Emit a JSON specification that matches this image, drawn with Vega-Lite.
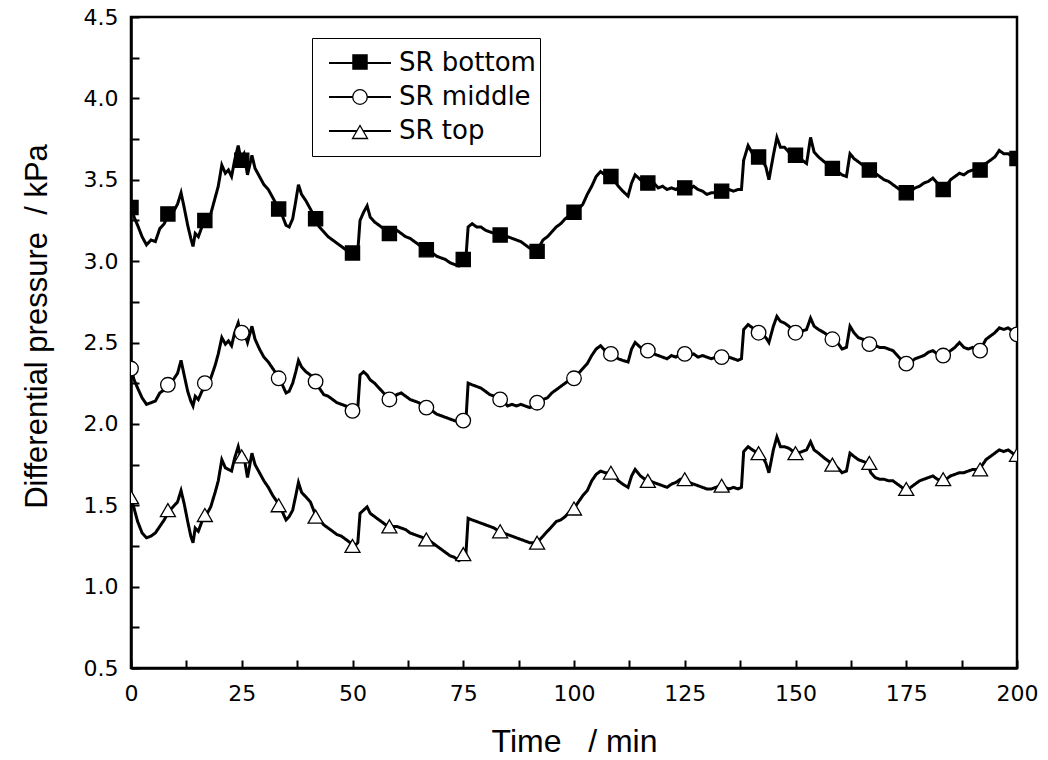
{
  "$schema": "https://vega.github.io/schema/vega-lite/v6.json",
  "width": 886,
  "height": 651,
  "autosize": {"type": "none"},
  "padding": {"left": 131, "top": 17, "right": 31, "bottom": 92},
  "background": "white",
  "config": {
    "view": {"stroke": "black", "strokeWidth": 2.5},
    "axis": {"grid": false, "domainColor": "black", "domainWidth": 2.5, "tickColor": "black", "tickWidth": 2, "tickSize": -8, "labelColor": "black", "titleColor": "black", "labelFont": "DejaVu Sans", "labelFontSize": 22, "labelFlush": false, "titleFont": "Liberation Sans", "titleFontWeight": "normal"}
  },
  "datasets": {
    "lines": [
      {"t":0,"SR bottom":3.36,"SR middle":2.34,"SR top":1.55},
      {"t":0.7,"SR bottom":3.27,"SR middle":2.27,"SR top":1.48},
      {"t":1.5,"SR bottom":3.22,"SR middle":2.22,"SR top":1.40},
      {"t":2.5,"SR bottom":3.15,"SR middle":2.16,"SR top":1.33},
      {"t":3.5,"SR bottom":3.10,"SR middle":2.12,"SR top":1.30},
      {"t":4.5,"SR bottom":3.13,"SR middle":2.13,"SR top":1.31},
      {"t":5.5,"SR bottom":3.12,"SR middle":2.14,"SR top":1.33},
      {"t":6.5,"SR bottom":3.20,"SR middle":2.19,"SR top":1.37},
      {"t":7.5,"SR bottom":3.23,"SR middle":2.21,"SR top":1.41},
      {"t":8.5,"SR bottom":3.29,"SR middle":2.24,"SR top":1.46},
      {"t":9.5,"SR bottom":3.30,"SR middle":2.27,"SR top":1.49},
      {"t":10.5,"SR bottom":3.35,"SR middle":2.31,"SR top":1.52},
      {"t":11.3,"SR bottom":3.42,"SR middle":2.39,"SR top":1.59},
      {"t":12,"SR bottom":3.33,"SR middle":2.30,"SR top":1.51},
      {"t":12.8,"SR bottom":3.22,"SR middle":2.20,"SR top":1.40},
      {"t":13.5,"SR bottom":3.14,"SR middle":2.14,"SR top":1.31},
      {"t":14,"SR bottom":3.09,"SR middle":2.11,"SR top":1.27},
      {"t":14.5,"SR bottom":3.17,"SR middle":2.17,"SR top":1.36},
      {"t":15.2,"SR bottom":3.15,"SR middle":2.15,"SR top":1.34},
      {"t":16,"SR bottom":3.21,"SR middle":2.20,"SR top":1.40},
      {"t":17,"SR bottom":3.24,"SR middle":2.24,"SR top":1.44},
      {"t":18,"SR bottom":3.29,"SR middle":2.28,"SR top":1.49},
      {"t":19,"SR bottom":3.39,"SR middle":2.36,"SR top":1.58},
      {"t":19.7,"SR bottom":3.46,"SR middle":2.43,"SR top":1.65},
      {"t":20.5,"SR bottom":3.59,"SR middle":2.53,"SR top":1.78},
      {"t":21.3,"SR bottom":3.54,"SR middle":2.49,"SR top":1.73},
      {"t":22,"SR bottom":3.56,"SR middle":2.51,"SR top":1.72},
      {"t":22.7,"SR bottom":3.52,"SR middle":2.48,"SR top":1.71},
      {"t":23.4,"SR bottom":3.62,"SR middle":2.56,"SR top":1.79},
      {"t":24.2,"SR bottom":3.71,"SR middle":2.62,"SR top":1.86},
      {"t":24.8,"SR bottom":3.63,"SR middle":2.55,"SR top":1.79},
      {"t":25.5,"SR bottom":3.66,"SR middle":2.57,"SR top":1.80},
      {"t":26.3,"SR bottom":3.53,"SR middle":2.50,"SR top":1.67},
      {"t":27.3,"SR bottom":3.65,"SR middle":2.60,"SR top":1.82},
      {"t":28,"SR bottom":3.57,"SR middle":2.52,"SR top":1.75},
      {"t":29,"SR bottom":3.52,"SR middle":2.46,"SR top":1.70},
      {"t":30,"SR bottom":3.47,"SR middle":2.41,"SR top":1.65},
      {"t":31,"SR bottom":3.44,"SR middle":2.38,"SR top":1.61},
      {"t":32,"SR bottom":3.39,"SR middle":2.34,"SR top":1.56},
      {"t":33,"SR bottom":3.34,"SR middle":2.30,"SR top":1.52},
      {"t":34,"SR bottom":3.29,"SR middle":2.25,"SR top":1.47},
      {"t":35,"SR bottom":3.22,"SR middle":2.19,"SR top":1.41},
      {"t":35.7,"SR bottom":3.21,"SR middle":2.20,"SR top":1.43},
      {"t":36.5,"SR bottom":3.26,"SR middle":2.25,"SR top":1.47},
      {"t":37.2,"SR bottom":3.37,"SR middle":2.32,"SR top":1.56},
      {"t":37.8,"SR bottom":3.47,"SR middle":2.39,"SR top":1.64},
      {"t":38.5,"SR bottom":3.41,"SR middle":2.35,"SR top":1.58},
      {"t":39.5,"SR bottom":3.37,"SR middle":2.32,"SR top":1.55},
      {"t":40.5,"SR bottom":3.32,"SR middle":2.30,"SR top":1.52},
      {"t":41.5,"SR bottom":3.27,"SR middle":2.26,"SR top":1.45},
      {"t":42.5,"SR bottom":3.21,"SR middle":2.22,"SR top":1.41},
      {"t":43.5,"SR bottom":3.18,"SR middle":2.18,"SR top":1.38},
      {"t":44.5,"SR bottom":3.15,"SR middle":2.17,"SR top":1.36},
      {"t":45.5,"SR bottom":3.13,"SR middle":2.15,"SR top":1.34},
      {"t":46.5,"SR bottom":3.11,"SR middle":2.13,"SR top":1.32},
      {"t":47.5,"SR bottom":3.09,"SR middle":2.12,"SR top":1.31},
      {"t":48.5,"SR bottom":3.07,"SR middle":2.11,"SR top":1.29},
      {"t":49.5,"SR bottom":3.05,"SR middle":2.10,"SR top":1.27},
      {"t":50.5,"SR bottom":3.05,"SR middle":2.08,"SR top":1.25},
      {"t":51.2,"SR bottom":3.06,"SR middle":2.10,"SR top":1.27},
      {"t":51.7,"SR bottom":3.25,"SR middle":2.30,"SR top":1.45},
      {"t":52.5,"SR bottom":3.30,"SR middle":2.32,"SR top":1.47},
      {"t":53.3,"SR bottom":3.34,"SR middle":2.30,"SR top":1.49},
      {"t":54,"SR bottom":3.27,"SR middle":2.27,"SR top":1.45},
      {"t":55,"SR bottom":3.24,"SR middle":2.25,"SR top":1.43},
      {"t":56,"SR bottom":3.22,"SR middle":2.22,"SR top":1.41},
      {"t":57,"SR bottom":3.20,"SR middle":2.19,"SR top":1.39},
      {"t":58,"SR bottom":3.18,"SR middle":2.16,"SR top":1.37},
      {"t":59,"SR bottom":3.16,"SR middle":2.15,"SR top":1.37},
      {"t":60,"SR bottom":3.19,"SR middle":2.18,"SR top":1.37},
      {"t":61,"SR bottom":3.17,"SR middle":2.19,"SR top":1.36},
      {"t":62,"SR bottom":3.15,"SR middle":2.17,"SR top":1.35},
      {"t":63,"SR bottom":3.14,"SR middle":2.15,"SR top":1.33},
      {"t":64,"SR bottom":3.12,"SR middle":2.14,"SR top":1.32},
      {"t":65,"SR bottom":3.10,"SR middle":2.13,"SR top":1.31},
      {"t":66,"SR bottom":3.08,"SR middle":2.11,"SR top":1.30},
      {"t":67,"SR bottom":3.06,"SR middle":2.10,"SR top":1.29},
      {"t":68,"SR bottom":3.05,"SR middle":2.08,"SR top":1.27},
      {"t":69,"SR bottom":3.03,"SR middle":2.06,"SR top":1.25},
      {"t":70,"SR bottom":3.02,"SR middle":2.05,"SR top":1.23},
      {"t":71,"SR bottom":3.01,"SR middle":2.04,"SR top":1.21},
      {"t":72,"SR bottom":2.99,"SR middle":2.03,"SR top":1.19},
      {"t":73,"SR bottom":2.98,"SR middle":2.02,"SR top":1.18},
      {"t":74,"SR bottom":2.97,"SR middle":2.01,"SR top":1.16},
      {"t":75,"SR bottom":3.00,"SR middle":2.02,"SR top":1.18},
      {"t":75.6,"SR bottom":3.02,"SR middle":2.02,"SR top":1.20},
      {"t":76.1,"SR bottom":3.21,"SR middle":2.25,"SR top":1.42},
      {"t":77,"SR bottom":3.23,"SR middle":2.24,"SR top":1.41},
      {"t":78,"SR bottom":3.21,"SR middle":2.23,"SR top":1.40},
      {"t":79,"SR bottom":3.21,"SR middle":2.22,"SR top":1.39},
      {"t":80,"SR bottom":3.19,"SR middle":2.20,"SR top":1.38},
      {"t":81,"SR bottom":3.18,"SR middle":2.18,"SR top":1.37},
      {"t":82,"SR bottom":3.17,"SR middle":2.17,"SR top":1.36},
      {"t":83,"SR bottom":3.16,"SR middle":2.15,"SR top":1.34},
      {"t":84,"SR bottom":3.17,"SR middle":2.14,"SR top":1.33},
      {"t":85,"SR bottom":3.15,"SR middle":2.11,"SR top":1.32},
      {"t":86,"SR bottom":3.14,"SR middle":2.12,"SR top":1.31},
      {"t":87,"SR bottom":3.13,"SR middle":2.11,"SR top":1.30},
      {"t":88,"SR bottom":3.12,"SR middle":2.12,"SR top":1.29},
      {"t":89,"SR bottom":3.10,"SR middle":2.11,"SR top":1.28},
      {"t":90,"SR bottom":3.08,"SR middle":2.10,"SR top":1.27},
      {"t":91,"SR bottom":3.06,"SR middle":2.11,"SR top":1.27},
      {"t":92,"SR bottom":3.08,"SR middle":2.13,"SR top":1.28},
      {"t":93,"SR bottom":3.13,"SR middle":2.15,"SR top":1.31},
      {"t":94,"SR bottom":3.15,"SR middle":2.16,"SR top":1.34},
      {"t":95,"SR bottom":3.18,"SR middle":2.19,"SR top":1.37},
      {"t":96,"SR bottom":3.21,"SR middle":2.21,"SR top":1.40},
      {"t":97,"SR bottom":3.23,"SR middle":2.23,"SR top":1.41},
      {"t":98,"SR bottom":3.26,"SR middle":2.25,"SR top":1.43},
      {"t":99,"SR bottom":3.28,"SR middle":2.27,"SR top":1.46},
      {"t":100,"SR bottom":3.30,"SR middle":2.28,"SR top":1.48},
      {"t":101,"SR bottom":3.32,"SR middle":2.31,"SR top":1.52},
      {"t":102,"SR bottom":3.35,"SR middle":2.34,"SR top":1.56},
      {"t":103,"SR bottom":3.41,"SR middle":2.37,"SR top":1.59},
      {"t":104,"SR bottom":3.46,"SR middle":2.42,"SR top":1.65},
      {"t":105,"SR bottom":3.52,"SR middle":2.46,"SR top":1.69},
      {"t":106,"SR bottom":3.55,"SR middle":2.48,"SR top":1.71},
      {"t":107,"SR bottom":3.53,"SR middle":2.45,"SR top":1.70},
      {"t":108,"SR bottom":3.54,"SR middle":2.44,"SR top":1.70},
      {"t":109,"SR bottom":3.50,"SR middle":2.42,"SR top":1.68},
      {"t":110,"SR bottom":3.46,"SR middle":2.40,"SR top":1.65},
      {"t":111,"SR bottom":3.43,"SR middle":2.39,"SR top":1.63},
      {"t":112.2,"SR bottom":3.40,"SR middle":2.38,"SR top":1.61},
      {"t":113,"SR bottom":3.48,"SR middle":2.46,"SR top":1.68},
      {"t":113.8,"SR bottom":3.53,"SR middle":2.50,"SR top":1.72},
      {"t":115,"SR bottom":3.50,"SR middle":2.47,"SR top":1.68},
      {"t":116,"SR bottom":3.49,"SR middle":2.46,"SR top":1.66},
      {"t":117,"SR bottom":3.47,"SR middle":2.45,"SR top":1.65},
      {"t":118,"SR bottom":3.48,"SR middle":2.43,"SR top":1.64},
      {"t":119,"SR bottom":3.45,"SR middle":2.42,"SR top":1.63},
      {"t":120,"SR bottom":3.46,"SR middle":2.41,"SR top":1.62},
      {"t":121,"SR bottom":3.44,"SR middle":2.40,"SR top":1.61},
      {"t":122,"SR bottom":3.45,"SR middle":2.42,"SR top":1.63},
      {"t":123,"SR bottom":3.44,"SR middle":2.41,"SR top":1.64},
      {"t":124,"SR bottom":3.46,"SR middle":2.43,"SR top":1.66},
      {"t":125,"SR bottom":3.45,"SR middle":2.43,"SR top":1.66},
      {"t":126,"SR bottom":3.44,"SR middle":2.42,"SR top":1.64},
      {"t":127,"SR bottom":3.46,"SR middle":2.43,"SR top":1.63},
      {"t":128,"SR bottom":3.44,"SR middle":2.41,"SR top":1.62},
      {"t":129,"SR bottom":3.43,"SR middle":2.42,"SR top":1.61},
      {"t":130,"SR bottom":3.41,"SR middle":2.41,"SR top":1.60},
      {"t":131,"SR bottom":3.42,"SR middle":2.40,"SR top":1.60},
      {"t":132,"SR bottom":3.42,"SR middle":2.41,"SR top":1.61},
      {"t":133,"SR bottom":3.43,"SR middle":2.41,"SR top":1.62},
      {"t":134,"SR bottom":3.43,"SR middle":2.40,"SR top":1.61},
      {"t":135,"SR bottom":3.44,"SR middle":2.41,"SR top":1.60},
      {"t":136,"SR bottom":3.43,"SR middle":2.40,"SR top":1.61},
      {"t":137,"SR bottom":3.44,"SR middle":2.39,"SR top":1.60},
      {"t":137.8,"SR bottom":3.44,"SR middle":2.40,"SR top":1.61},
      {"t":138.3,"SR bottom":3.62,"SR middle":2.58,"SR top":1.83},
      {"t":139.3,"SR bottom":3.71,"SR middle":2.61,"SR top":1.86},
      {"t":140.3,"SR bottom":3.66,"SR middle":2.59,"SR top":1.84},
      {"t":141.5,"SR bottom":3.64,"SR middle":2.56,"SR top":1.82},
      {"t":142.5,"SR bottom":3.62,"SR middle":2.55,"SR top":1.80},
      {"t":143.3,"SR bottom":3.58,"SR middle":2.53,"SR top":1.76},
      {"t":144,"SR bottom":3.50,"SR middle":2.50,"SR top":1.70},
      {"t":145,"SR bottom":3.65,"SR middle":2.60,"SR top":1.84},
      {"t":145.8,"SR bottom":3.76,"SR middle":2.66,"SR top":1.92},
      {"t":146.6,"SR bottom":3.70,"SR middle":2.63,"SR top":1.86},
      {"t":147.5,"SR bottom":3.70,"SR middle":2.62,"SR top":1.86},
      {"t":148.5,"SR bottom":3.67,"SR middle":2.60,"SR top":1.85},
      {"t":149.5,"SR bottom":3.65,"SR middle":2.57,"SR top":1.83},
      {"t":150.5,"SR bottom":3.63,"SR middle":2.56,"SR top":1.82},
      {"t":151.5,"SR bottom":3.62,"SR middle":2.57,"SR top":1.83},
      {"t":152.5,"SR bottom":3.60,"SR middle":2.58,"SR top":1.84},
      {"t":153.4,"SR bottom":3.76,"SR middle":2.65,"SR top":1.89},
      {"t":154.2,"SR bottom":3.67,"SR middle":2.60,"SR top":1.84},
      {"t":155.2,"SR bottom":3.64,"SR middle":2.58,"SR top":1.82},
      {"t":156.5,"SR bottom":3.61,"SR middle":2.56,"SR top":1.79},
      {"t":157.5,"SR bottom":3.59,"SR middle":2.54,"SR top":1.77},
      {"t":158.5,"SR bottom":3.57,"SR middle":2.52,"SR top":1.75},
      {"t":159.5,"SR bottom":3.55,"SR middle":2.50,"SR top":1.73},
      {"t":160.5,"SR bottom":3.53,"SR middle":2.46,"SR top":1.70},
      {"t":161.5,"SR bottom":3.52,"SR middle":2.47,"SR top":1.71},
      {"t":162.3,"SR bottom":3.66,"SR middle":2.60,"SR top":1.82},
      {"t":163.2,"SR bottom":3.63,"SR middle":2.56,"SR top":1.80},
      {"t":164.2,"SR bottom":3.61,"SR middle":2.53,"SR top":1.78},
      {"t":165.2,"SR bottom":3.59,"SR middle":2.52,"SR top":1.77},
      {"t":166.2,"SR bottom":3.57,"SR middle":2.51,"SR top":1.76},
      {"t":167,"SR bottom":3.56,"SR middle":2.49,"SR top":1.70},
      {"t":168,"SR bottom":3.54,"SR middle":2.48,"SR top":1.67},
      {"t":169,"SR bottom":3.52,"SR middle":2.47,"SR top":1.66},
      {"t":170,"SR bottom":3.50,"SR middle":2.47,"SR top":1.66},
      {"t":171,"SR bottom":3.49,"SR middle":2.46,"SR top":1.65},
      {"t":172,"SR bottom":3.47,"SR middle":2.45,"SR top":1.65},
      {"t":173,"SR bottom":3.45,"SR middle":2.42,"SR top":1.63},
      {"t":174,"SR bottom":3.43,"SR middle":2.39,"SR top":1.61},
      {"t":175,"SR bottom":3.42,"SR middle":2.37,"SR top":1.59},
      {"t":176,"SR bottom":3.43,"SR middle":2.38,"SR top":1.61},
      {"t":177,"SR bottom":3.45,"SR middle":2.40,"SR top":1.63},
      {"t":178,"SR bottom":3.46,"SR middle":2.41,"SR top":1.65},
      {"t":179,"SR bottom":3.48,"SR middle":2.42,"SR top":1.66},
      {"t":180,"SR bottom":3.49,"SR middle":2.44,"SR top":1.67},
      {"t":181,"SR bottom":3.51,"SR middle":2.45,"SR top":1.68},
      {"t":182,"SR bottom":3.48,"SR middle":2.43,"SR top":1.66},
      {"t":183,"SR bottom":3.44,"SR middle":2.42,"SR top":1.65},
      {"t":184,"SR bottom":3.46,"SR middle":2.43,"SR top":1.66},
      {"t":185,"SR bottom":3.50,"SR middle":2.45,"SR top":1.68},
      {"t":186,"SR bottom":3.52,"SR middle":2.47,"SR top":1.69},
      {"t":187,"SR bottom":3.54,"SR middle":2.50,"SR top":1.70},
      {"t":188,"SR bottom":3.53,"SR middle":2.47,"SR top":1.70},
      {"t":189,"SR bottom":3.55,"SR middle":2.46,"SR top":1.71},
      {"t":190,"SR bottom":3.56,"SR middle":2.47,"SR top":1.72},
      {"t":191,"SR bottom":3.55,"SR middle":2.45,"SR top":1.72},
      {"t":192,"SR bottom":3.58,"SR middle":2.47,"SR top":1.74},
      {"t":193,"SR bottom":3.60,"SR middle":2.52,"SR top":1.78},
      {"t":194,"SR bottom":3.62,"SR middle":2.54,"SR top":1.80},
      {"t":195,"SR bottom":3.64,"SR middle":2.56,"SR top":1.82},
      {"t":196,"SR bottom":3.68,"SR middle":2.59,"SR top":1.84},
      {"t":197,"SR bottom":3.66,"SR middle":2.58,"SR top":1.83},
      {"t":198,"SR bottom":3.66,"SR middle":2.59,"SR top":1.84},
      {"t":199,"SR bottom":3.64,"SR middle":2.57,"SR top":1.82},
      {"t":200,"SR bottom":3.62,"SR middle":2.55,"SR top":1.80}
    ],
    "marks": [
      {"t":0,"SR bottom":3.33,"SR middle":2.34,"SR top":1.55},
      {"t":8.33,"SR bottom":3.29,"SR middle":2.24,"SR top":1.47},
      {"t":16.67,"SR bottom":3.25,"SR middle":2.25,"SR top":1.44},
      {"t":25,"SR bottom":3.62,"SR middle":2.56,"SR top":1.80},
      {"t":33.33,"SR bottom":3.32,"SR middle":2.28,"SR top":1.50},
      {"t":41.67,"SR bottom":3.26,"SR middle":2.26,"SR top":1.43},
      {"t":50,"SR bottom":3.05,"SR middle":2.08,"SR top":1.25},
      {"t":58.33,"SR bottom":3.17,"SR middle":2.15,"SR top":1.37},
      {"t":66.67,"SR bottom":3.07,"SR middle":2.10,"SR top":1.29},
      {"t":75,"SR bottom":3.01,"SR middle":2.02,"SR top":1.20},
      {"t":83.33,"SR bottom":3.16,"SR middle":2.15,"SR top":1.34},
      {"t":91.67,"SR bottom":3.06,"SR middle":2.13,"SR top":1.27},
      {"t":100,"SR bottom":3.30,"SR middle":2.28,"SR top":1.48},
      {"t":108.33,"SR bottom":3.52,"SR middle":2.43,"SR top":1.70},
      {"t":116.67,"SR bottom":3.48,"SR middle":2.45,"SR top":1.65},
      {"t":125,"SR bottom":3.45,"SR middle":2.43,"SR top":1.66},
      {"t":133.33,"SR bottom":3.43,"SR middle":2.41,"SR top":1.62},
      {"t":141.67,"SR bottom":3.64,"SR middle":2.56,"SR top":1.82},
      {"t":150,"SR bottom":3.65,"SR middle":2.56,"SR top":1.82},
      {"t":158.33,"SR bottom":3.57,"SR middle":2.52,"SR top":1.75},
      {"t":166.67,"SR bottom":3.56,"SR middle":2.49,"SR top":1.76},
      {"t":175,"SR bottom":3.42,"SR middle":2.37,"SR top":1.60},
      {"t":183.33,"SR bottom":3.44,"SR middle":2.42,"SR top":1.66},
      {"t":191.67,"SR bottom":3.56,"SR middle":2.45,"SR top":1.72},
      {"t":200,"SR bottom":3.63,"SR middle":2.55,"SR top":1.81}
    ]
  },
  "layer": [
    {
      "data": {"name": "lines"},
      "transform": [{"fold": ["SR bottom", "SR middle", "SR top"], "as": ["series", "v"]}],
      "mark": {"type": "line", "strokeWidth": 3, "clip": true},
      "encoding": {
        "x": {"field": "t", "type": "quantitative", "scale": {"domain": [0, 200], "nice": false, "zero": false},
          "axis": {"values": [0,12.5,25,37.5,50,62.5,75,87.5,100,112.5,125,137.5,150,162.5,175,187.5,200], "labelExpr": "datum.value % 25 === 0 ? datum.label : ''", "labelPadding": 23, "title": "Time\u00a0\u00a0\u00a0/\u00a0min", "titleFontSize": 32, "titlePadding": 22}},
        "y": {"field": "v", "type": "quantitative", "scale": {"domain": [0.5, 4.5], "nice": false, "zero": false},
          "axis": {"values": [0.5,0.75,1,1.25,1.5,1.75,2,2.25,2.5,2.75,3,3.25,3.5,3.75,4,4.25,4.5], "labelExpr": "(datum.value * 2) % 1 === 0 ? format(datum.value, '.1f') : ''", "labelPadding": 21, "title": "Differential pressure\u00a0\u00a0/\u00a0kPa", "titleFontSize": 31, "titlePadding": 30, "titleY": 309}},
        "strokeDash": {"field": "series", "type": "nominal", "scale": {"range": [[1, 0], [1, 0], [1, 0]]},
          "legend": {"title": null, "orient": "none", "legendX": 208, "legendY": 25, "padding": 0, "rowPadding": 0, "labelFont": "DejaVu Sans", "labelFontSize": 26, "labelColor": "black", "symbolType": "M-1.55,0H1.55", "symbolSize": 1600, "symbolStrokeColor": "black", "symbolStrokeWidth": 2, "symbolOffset": 0, "labelOffset": 18, "zindex": 1}},
        "stroke": {"field": "series", "type": "nominal", "scale": {"domain": ["SR bottom", "SR middle", "SR top"], "range": ["black", "black", "black"]},
          "legend": {"title": null, "orient": "none", "legendX": 181, "legendY": 21, "strokeColor": "black", "padding": 11, "rowPadding": 9, "labelFont": "DejaVu Sans", "labelFontSize": 26, "labelOpacity": 0, "symbolStrokeColor": "black", "symbolStrokeWidth": 1.3, "symbolOffset": 24, "labelOffset": 19, "zindex": 2}}
      }
    },
    {
      "data": {"name": "marks"},
      "transform": [{"fold": ["SR bottom", "SR middle", "SR top"], "as": ["series", "v"]}],
      "mark": {"type": "point", "filled": true, "stroke": "black", "strokeWidth": 1.3, "opacity": 1, "size": 225, "clip": true},
      "encoding": {
        "x": {"field": "t", "type": "quantitative"},
        "y": {"field": "v", "type": "quantitative"},
        "shape": {"field": "series", "type": "nominal", "scale": {"domain": ["SR bottom", "SR middle", "SR top"], "range": ["square", "circle", "triangle-up"]},
          "legend": {"title": null, "orient": "none", "legendX": 181, "legendY": 21, "strokeColor": "black", "padding": 11, "rowPadding": 9, "labelFont": "DejaVu Sans", "labelFontSize": 26, "labelOpacity": 0, "symbolStrokeColor": "black", "symbolStrokeWidth": 1.3, "symbolOffset": 24, "labelOffset": 19, "zindex": 2}},
        "fill": {"field": "series", "type": "nominal", "scale": {"domain": ["SR bottom", "SR middle", "SR top"], "range": ["black", "white", "white"]},
          "legend": {"title": null, "orient": "none", "legendX": 181, "legendY": 21, "strokeColor": "black", "padding": 11, "rowPadding": 9, "labelFont": "DejaVu Sans", "labelFontSize": 26, "labelOpacity": 0, "symbolStrokeColor": "black", "symbolStrokeWidth": 1.3, "symbolOffset": 24, "labelOffset": 19, "zindex": 2}},
        "size": {"field": "series", "type": "nominal", "scale": {"domain": ["SR bottom", "SR middle", "SR top"], "range": [200, 225, 324]}, "legend": null}
      }
    }
  ]
}
